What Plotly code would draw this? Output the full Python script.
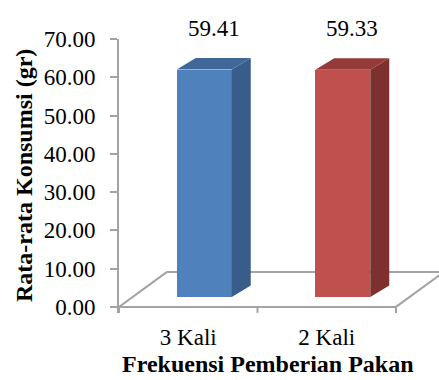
import plotly.graph_objects as go

# Data
categories = ["3 Kali", "2 Kali"]
consumption = [59.41, 59.33]
value_labels = ["59.41", "59.33"]
y_ticks = [0, 10, 20, 30, 40, 50, 60, 70]

# Styling
front_colors = ["#4f81bd", "#c0504d"]
side_colors = ["#385d8a", "#7e302e"]
top_colors = ["#3f6798", "#943a38"]
grey = "#a3a3a3"
FONT = "Liberation Serif, Times New Roman, serif"

W, H = 439, 380
M_L, M_R, M_T, M_B = 119, 0, 39, 67
Y_MIN, Y_MAX = -1.6, 70
PX_X = 138.5                                # pixels per category unit
PX_Y = (H - M_T - M_B) / (Y_MAX - Y_MIN)    # pixels per value unit
X_MIN = -0.5
X_MAX = X_MIN + (W - M_L - M_R) / PX_X
PLOT_H = H - M_T - M_B

# pseudo-3D projection (pixel offsets converted into axis units)
FLOOR_DX, FLOOR_DY = 48 / PX_X, 35 / PX_Y      # full floor depth
FACE_DX, FACE_DY = 16 / PX_X, 10 / PX_Y        # where the bar front face sits
BAR_DX, BAR_DY = 19 / PX_X, 11.5 / PX_Y        # bar depth
BAR_W = 55 / PX_X

n = len(categories)
fig = go.Figure()

# front faces of the columns
fig.add_trace(go.Bar(
    x=[i + FACE_DX for i in range(n)],
    y=consumption,
    base=[FACE_DY] * n,
    width=BAR_W,
    marker=dict(color=front_colors, line=dict(width=0)),
    hoverinfo="skip",
    showlegend=False,
))

# side and top faces
for i, v in enumerate(consumption):
    xl = i + FACE_DX - BAR_W / 2
    xr = i + FACE_DX + BAR_W / 2
    b = FACE_DY
    t = FACE_DY + v
    fig.add_trace(go.Scatter(
        x=[xr, xr + BAR_DX, xr + BAR_DX, xr, xr],
        y=[b, b + BAR_DY, t + BAR_DY, t, b],
        fill="toself", fillcolor=side_colors[i], mode="lines",
        line=dict(width=0), hoverinfo="skip", showlegend=False,
    ))
    fig.add_trace(go.Scatter(
        x=[xl, xr, xr + BAR_DX, xl + BAR_DX, xl],
        y=[t, t, t + BAR_DY, t + BAR_DY, t],
        fill="toself", fillcolor=top_colors[i], mode="lines",
        line=dict(width=0), hoverinfo="skip", showlegend=False,
    ))
    fig.add_annotation(
        x=i + FACE_DX + BAR_DX / 2, y=t + BAR_DY,
        xref="x", yref="y", text=value_labels[i], showarrow=False,
        yanchor="bottom", yshift=15,
        font=dict(family=FONT, size=23, color="black"),
    )

# floor outline
x_left, x_right = X_MIN, X_MIN + n
floor_lines = [
    (x_left, 0, x_right, 0),
    (x_left, 0, x_left + FLOOR_DX, FLOOR_DY),
    (x_left + FLOOR_DX, FLOOR_DY, x_right + FLOOR_DX, FLOOR_DY),
    (x_right, 0, x_right + FLOOR_DX, FLOOR_DY),
]
for x0, y0, x1, y1 in floor_lines:
    fig.add_shape(type="line", x0=x0, y0=y0, x1=x1, y1=y1,
                  xref="x", yref="y", layer="below",
                  line=dict(color=grey, width=2))

# category boundary ticks
for k in range(n + 1):
    fig.add_shape(type="line", xref="x", yref="y",
                  x0=x_left + k, x1=x_left + k,
                  ysizemode="pixel", yanchor=0, y0=0, y1=-6,
                  line=dict(color=grey, width=2))

fig.add_annotation(
    xref="paper", yref="paper", x=(24 - M_L) / (W - M_L - M_R),
    y=0.5, text="<b>Rata-rata Konsumsi (gr)</b>", textangle=-90,
    showarrow=False, xanchor="center", yanchor="middle",
    font=dict(family=FONT, size=24, color="black"),
)
fig.add_annotation(
    xref="paper", yref="paper", x=(268 - M_L) / (W - M_L - M_R),
    y=-(M_B - 1) / PLOT_H, text="<b>Frekuensi Pemberian Pakan</b>",
    showarrow=False, xanchor="center", yanchor="bottom",
    font=dict(family=FONT, size=24, color="black"),
)

fig.update_layout(
    width=W, height=H,
    margin=dict(l=M_L, r=M_R, t=M_T, b=M_B, pad=0),
    paper_bgcolor="white", plot_bgcolor="white",
    bargap=0,
    xaxis=dict(
        range=[X_MIN, X_MAX], tickvals=list(range(n)), ticktext=categories,
        showline=False, showgrid=False, zeroline=False, ticks="",
        ticklabelstandoff=8,
        tickfont=dict(family=FONT, size=23, color="black"),
    ),
    yaxis=dict(
        range=[Y_MIN, Y_MAX], tickvals=y_ticks,
        ticktext=[f"{v:.2f}" for v in y_ticks],
        showline=True, linecolor=grey, linewidth=2,
        ticks="outside", ticklen=7, tickwidth=2, tickcolor=grey,
        showgrid=False, zeroline=False, ticklabelstandoff=10,
        tickfont=dict(family=FONT, size=23, color="black"),
    ),
)

fig.write_html("out.html")
